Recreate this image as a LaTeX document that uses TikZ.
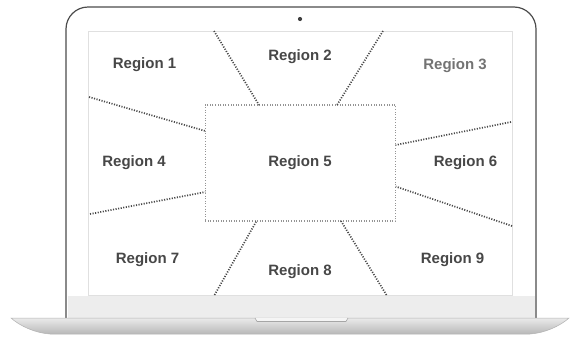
\documentclass[tikz,border=0pt]{standalone}
\usepackage{fontspec}
\setmainfont{Liberation Sans}
\begin{document}
\begin{tikzpicture}[x=1pt,y=-1pt,
  lbl/.style={font=\bfseries\fontsize{15}{17}\selectfont, text=black!72},
  sep/.style={draw=black!72, line width=1.7pt, dash pattern=on 1.1pt off 1.5pt},
  boxline/.style={draw=black!42, line width=1.3pt, dash pattern=on 1pt off 1.6pt}]
\useasboundingbox (0,0) rectangle (580,338);
\fill[white] (0,0) rectangle (580,338);
% lid
\draw[black!70, line width=1.2pt, fill=white, rounded corners=22pt]
  (66,322) -- (66,7) -- (536,7) -- (536,322);
\fill[black!7] (67.5,296) rectangle (534.5,318);
% screen
\draw[black!12, line width=0.8pt] (88,31) rectangle (512,295);
\fill[black!75] (300,19) circle (2.1pt);
% base
\shade[top color=black!8, bottom color=black!28, draw=black!30, line width=0.5pt]
  (11,318) -- (569,318) .. controls (560,326) and (545,333) .. (530,334)
  -- (50,334) .. controls (35,333) and (20,326) .. (11,318) -- cycle;
\draw[black!35, line width=0.6pt, fill=black!4] (255,318) -- (257,321.5) -- (346,321.5) -- (348,318);
% center box
\node[boxline, minimum width=190.5pt, minimum height=116pt, inner sep=0pt] (r5box) at (300.5,163) {};
% coordinates
\coordinate (a1) at (214,31);  \coordinate (b1) at (259,105);
\coordinate (a2) at (383,31);  \coordinate (b2) at (337,105);
\coordinate (a3) at (89,97);   \coordinate (b3) at (205.3,131);
\coordinate (a4) at (90,214);  \coordinate (b4) at (205.3,192);
\coordinate (a5) at (511,122); \coordinate (b5) at (395.7,145);
\coordinate (a6) at (512,226); \coordinate (b6) at (395.7,186.5);
\coordinate (a7) at (214.5,295); \coordinate (b7) at (256.5,221);
\coordinate (a8) at (386.5,295); \coordinate (b8) at (341,221);
\foreach \i in {1,...,8} {\draw[sep] (a\i) -- (b\i);}
% labels
\node[lbl] (r1) at (144.5,65) {Region 1};
\node[lbl] (r2) at (300,57) {Region 2};
\node[lbl, text=black!55] (r3) at (455,66) {Region 3};
\node[lbl] (r4) at (134,163) {Region 4};
\node[lbl] (r5) at (300,163) {Region 5};
\node[lbl] (r6) at (465.5,163) {Region 6};
\node[lbl] (r7) at (147.5,260) {Region 7};
\node[lbl] (r8) at (300,271.5) {Region 8};
\node[lbl] (r9) at (452.5,260) {Region 9};
\end{tikzpicture}
\end{document}
